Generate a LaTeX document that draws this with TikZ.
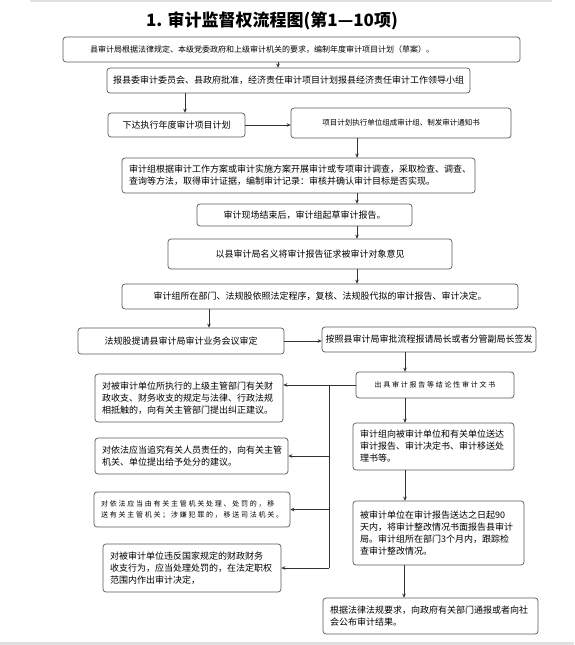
\documentclass[tikz,border=0pt]{standalone}
\usepackage{fontspec}
\setmainfont{Noto Sans CJK SC}
\newfontfamily\spaced[LetterSpace=25]{Noto Sans CJK SC}
\usetikzlibrary{arrows.meta}

\begin{document}
\begin{tikzpicture}[x=1pt,y=-1pt,
  box/.style={draw=black!65, line width=0.7pt, rounded corners=3pt, fill=white,
    font=\fontsize{9}{12}\selectfont, inner sep=0pt, align=center},
  note/.style={box, align=left, inner xsep=7pt, inner ysep=2pt},
  arr/.style={-{Stealth[length=4pt,width=3.6pt]}, line width=0.6pt, black!80}]
\useasboundingbox (0,0) rectangle (574,645);
\fill[black!12] (30,0) rectangle (552,2);
\fill[black!12] (0,642) rectangle (574,645);

\node[font=\fontsize{17}{20}\selectfont\bfseries] (T) at (272,21) {1. 审计监督权流程图(第1—10项)};

\node[note, inner xsep=27pt, text width=403pt, minimum height=25pt, font=\fontsize{8}{10}\selectfont] (A) at (291.5,49.5)
  {县审计局根据法律规定、本级党委政府和上级审计机关的要求，编制年度审计项目计划（草案）。};
\node[box, minimum width=363pt, minimum height=25pt] (B) at (288.5,80.5)
  {报县委审计委员会、县政府批准，经济责任审计项目计划报县经济责任审计工作领导小组};
\node[box, minimum width=137pt, minimum height=24pt] (C) at (176.5,125) {下达执行年度审计项目计划};
\node[box, minimum width=220pt, minimum height=30pt, font=\fontsize{7.5}{9}\selectfont] (D) at (401,123)
  {项目计划执行单位组成审计组、制发审计通知书};
\node[note, text width=339pt, minimum height=35pt] (E) at (298.5,175.5)
  {审计组根据审计工作方案或审计实施方案开展审计或专项审计调查，采取检查、调查、\\
   查询等方法，取得审计证据，编制审计记录：审核并确认审计目标是否实现。};
\node[box, minimum width=215pt, minimum height=22pt] (F) at (304.5,215) {审计现场结束后，审计组起草审计报告。};
\node[box, minimum width=284pt, minimum height=30pt] (G) at (310,254) {以县审计局名义将审计报告征求被审计对象意见};
\node[box, minimum width=396pt, minimum height=25pt] (H) at (320,296.5)
  {审计组所在部门、法规股依照法定程序，复核、法规股代拟的审计报告、审计决定。};
\node[box, minimum width=206pt, minimum height=26pt] (I) at (181,341) {法规股提请县审计局审计业务会议审定};
\node[box, minimum width=214pt, minimum height=25pt] (J) at (429,339.5) {按照县审计局审批流程报请局长或者分管副局长签发};
\node[box, minimum width=158pt, minimum height=26pt, font=\fontsize{7}{9}\spaced] (K) at (435,385) {出具审计报告等结论性审计文书};
\node[note, text width=147pt, minimum height=47pt] (L) at (433.5,446.5)
  {审计组向被审计单位和有关单位送达\\审计报告、审计决定书、审计移送处\\理书等。};
\node[note, text width=157pt, minimum height=64pt] (M) at (438.5,533)
  {被审计单位在审计报告送达之日起90\\天内，将审计整改情况书面报告县审计\\局。审计组所在部门3个月内，跟踪检\\查审计整改情况。};
\node[note, text width=201pt, minimum height=36pt] (N) at (430.5,616)
  {根据法律法规要求，向政府有关部门通报或者向社\\会公布审计结果。};

\node[note, text width=174pt, minimum height=48pt] (P) at (189,398)
  {对被审计单位所执行的上级主管部门有关财\\政收支、财务收支的规定与法律、行政法规\\相抵触的，向有关主管部门提出纠正建议。};
\node[note, text width=179pt, minimum height=36pt] (Q) at (191.5,456)
  {对依法应当追究有关人员责任的，向有关主管\\机关、单位提出给予处分的建议。};
\node[note, text width=182pt, minimum height=35pt, font=\fontsize{7}{11}\spaced] (R) at (192,509.5)
  {对依法应当由有关主管机关处理、处罚的，移\\送有关主管机关；涉嫌犯罪的，移送司法机关。};
\node[note, text width=164pt, minimum height=48pt] (S) at (192,568)
  {对被审计单位违反国家规定的财政财务\\收支行为，应当处理处罚的，在法定职权\\范围内作出审计决定，};

% main column
\draw[arr] (A.south -| 278,0) -- (B.north -| 278,0);
\draw[arr] (B.south -| 185,0) -- (C.north -| 185,0);
\draw[arr] (C.east) -- (C.east -| D.west);
\draw[arr] (D.south -| 357,0) -- (E.north -| 357,0);
\draw[arr] (E.south -| 357,0) -- (F.north -| 357,0);
\draw[arr] (F.south -| 357,0) -- (G.north -| 357,0);
\draw[arr] (G.south -| 357,0) -- (H.north -| 357,0);
\draw[arr] (H.south -| 209,0) -- (I.north -| 209,0);
\draw[arr] (I.east) -- (I.east -| J.west);
\draw[arr] (J.south -| 405,0) -- (K.north -| 405,0);
\draw[arr] (K.south -| 405,0) -- (L.north -| 405,0);
\draw[arr] (L.south -| 405,0) -- (M.north -| 405,0);
\draw[arr] (M.south -| 404,0) -- (N.north -| 404,0);

% branches to the left
\coordinate (U) at (K.west -| 329,0);
\draw[arr] (K.west) -- (K.west -| P.east);
\draw[line width=0.6pt, black!80] (U) -- (U |- S.east);
\draw[arr] (U |- Q.east) -- (Q.east);
\draw[arr] (U |- R.east) -- (R.east);
\draw[arr] (U |- S.east) -- (S.east);
\end{tikzpicture}
\end{document}
